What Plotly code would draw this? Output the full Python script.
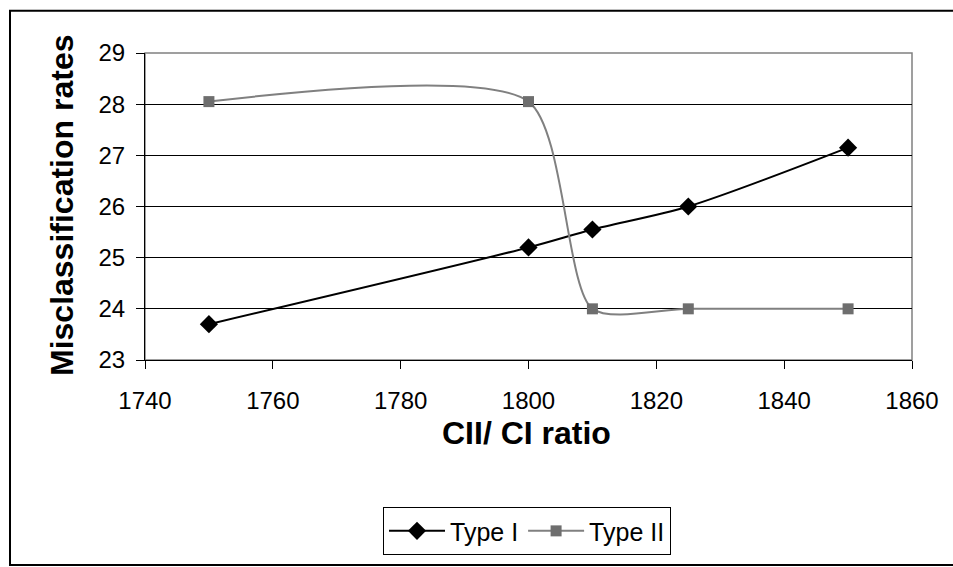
import plotly.graph_objects as go

ratio = [1750, 1800, 1810, 1825, 1850]
type1 = [23.7, 25.2, 25.55, 26.0, 27.15]
type2 = [28.05, 28.05, 24.0, 24.0, 24.0]

W, H = 953, 567
L, R, T, B = 145, 41, 53, 201
pw, ph = W - L - R, H - T - B

def px(x):
    return (x - L) / pw

def py(y):
    return (H - B - y) / ph

fig = go.Figure()
fig.add_trace(go.Scatter(
    x=ratio, y=type1, name="Type I", mode="lines+markers",
    line=dict(color="black", width=2, shape="spline", smoothing=0.8),
    marker=dict(symbol="diamond", size=14, color="black"),
))
fig.add_trace(go.Scatter(
    x=ratio, y=type2, name="Type II", mode="lines+markers",
    line=dict(color="#808080", width=2, shape="spline", smoothing=0.7),
    marker=dict(symbol="square", size=11, color="#6e6e6e"),
))

font = "Liberation Sans, Arial, sans-serif"
fig.update_layout(
    width=W, height=H,
    margin=dict(l=L, r=R, t=T, b=B, pad=0),
    paper_bgcolor="white", plot_bgcolor="white",
    font=dict(family=font, size=24, color="black"),
    showlegend=True,
    legend=dict(
        orientation="h", x=px(527), xanchor="center", y=py(516), yanchor="top",
        bordercolor="black", borderwidth=1, bgcolor="white",
        font=dict(size=25, family=font), itemwidth=56, tracegroupgap=0,
    ),
    xaxis=dict(
        range=[1740, 1860], tickvals=[1740, 1760, 1780, 1800, 1820, 1840, 1860],
        showgrid=False, zeroline=False, showline=True, linecolor="black", linewidth=1,
        ticks="outside", ticklen=8, tickcolor="black", tickfont=dict(size=24),
        ticklabelstandoff=11,
    ),
    yaxis=dict(
        range=[23, 29], tickvals=[23, 24, 25, 26, 27, 28, 29],
        showgrid=True, gridcolor="black", gridwidth=1, zeroline=False,
        showline=True, linecolor="black", linewidth=1,
        ticks="outside", ticklen=8, tickcolor="black", tickfont=dict(size=24),
        ticklabelstandoff=6,
    ),
    annotations=[
        dict(text="<b>CII/ CI ratio</b>", xref="paper", yref="paper",
             x=px(526), y=py(440), xanchor="center", yanchor="middle",
             showarrow=False, font=dict(size=32, family=font)),
        dict(text="<b>Misclassification rates</b>", xref="paper", yref="paper",
             x=px(62), y=py(209), xanchor="center", yanchor="middle", textangle=-90,
             showarrow=False, font=dict(size=32, family=font)),
    ],
    shapes=[
        dict(type="rect", xref="paper", yref="paper", x0=0, x1=1, y0=0, y1=1,
             line=dict(color="#808080", width=1.5), layer="below"),
        dict(type="rect", xref="paper", yref="paper",
             x0=px(10), x1=px(960), y0=py(575), y1=py(10),
             line=dict(color="black", width=2), layer="above"),
    ],
)

fig.write_html("out.html")
